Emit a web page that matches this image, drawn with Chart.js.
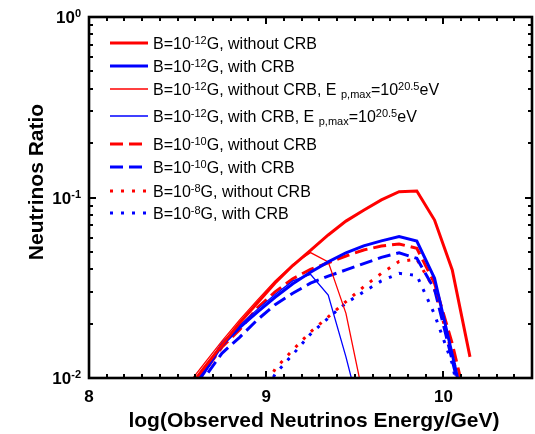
<!DOCTYPE html>
<html><head><meta charset="utf-8">
<script src="https://cdn.jsdelivr.net/npm/chart.js@4.4.1/dist/chart.umd.min.js"></script>
<style>html,body{margin:0;padding:0;background:#fff}canvas{display:block}</style>
</head><body>
<canvas id="c" width="535" height="434"></canvas>
<script>
// ---- data ----
const energies = [8.55,8.65,8.75,8.85,8.95,9.05,9.15,9.25,9.35,9.45,9.55,9.65,9.75,9.85,9.95,10.05,10.15];
const b12NoCrb      = [0.0085,0.0114,0.0152,0.0202,0.026,0.0336,0.042,0.051,0.062,0.074,0.085,0.097,0.1076,0.1086,0.075,0.0397,0.0131];
const b12Crb        = [0.0078,0.0107,0.0152,0.019,0.0232,0.028,0.0333,0.0385,0.044,0.0494,0.054,0.0575,0.0607,0.0574,0.0357,0.0135,0.005];
const b12NoCrbEmax  = [0.009,0.012,0.016,0.021,0.027,0.0345,0.0425,0.0495,0.044,0.0228,0.0077,null,null,null,null,null,null];
const b12CrbEmax    = [0.0081,0.0111,0.0157,0.0196,0.024,0.029,0.0345,0.0375,0.0288,0.0131,0.0054,null,null,null,null,null,null];
const b10NoCrb      = [0.0078,0.0108,0.0148,0.0185,0.0245,0.030,0.0355,0.040,0.0435,0.0474,0.0512,0.0538,0.0553,0.0523,0.0335,0.0155,0.006];
const b10Crb        = [0.0072,0.010,0.0137,0.0168,0.021,0.0255,0.0295,0.0335,0.0367,0.0397,0.043,0.0466,0.0494,0.046,0.031,0.0125,0.005];
const b8NoCrb       = [null,null,null,null,0.0075,0.0112,0.0143,0.018,0.0218,0.0265,0.032,0.038,0.0442,0.0455,0.031,0.0135,0.005];
const b8Crb         = [null,null,null,null,0.007,0.0105,0.0135,0.0175,0.0215,0.026,0.030,0.0345,0.038,0.037,0.0225,0.012,0.004];

const legendLabels = [
  'B=10^{-12}G, without CRB',
  'B=10^{-12}G, with CRB',
  'B=10^{-12}G, without CRB, E _{p,max}=10^{20.5}eV',
  'B=10^{-12}G, with CRB, E _{p,max}=10^{20.5}eV',
  'B=10^{-10}G, without CRB',
  'B=10^{-10}G, with CRB',
  'B=10^{-8}G, without CRB',
  'B=10^{-8}G, with CRB'
];
const xTickValues = [8, 9, 10];
const xTickLabels = ['8', '9', '10'];
const yTickValues = [1, 0.1, 0.01];
const yTickLabels = ['10^{0}', '10^{-1}', '10^{-2}'];
const xTitle = 'log(Observed Neutrinos Energy/GeV)';
const yTitle = 'Neutrinos Ratio';

// ---- styles ----
const RED = '#ff0000', BLUE = '#0000ff';
const FONT = '"Liberation Sans", Arial, Helvetica, sans-serif';
const pts = arr => energies.map((e, i) => ({x: e, y: arr[i]}));
const mk = (label, arr, color, width, dash) => ({
  label, data: pts(arr), borderColor: color, backgroundColor: color,
  borderWidth: width, borderDash: dash, pointRadius: 0, tension: 0,
  spanGaps: false, fill: false, borderCapStyle: 'butt', borderJoinStyle: 'miter'
});
const DASH = [13, 6], DOT = [3, 8];
const series = [b12NoCrb, b12Crb, b12NoCrbEmax, b12CrbEmax, b10NoCrb, b10Crb, b8NoCrb, b8Crb];
const colors = [RED, BLUE, RED, BLUE, RED, BLUE, RED, BLUE];
const widths = [3, 3, 1.3, 1.3, 3, 3, 3, 3];
const dashes = [[], [], [], [], DASH, DASH, DOT, DOT];
const datasets = series.map((s, i) => mk(legendLabels[i], s, colors[i], widths[i], dashes[i]));

// rich text: ^{sup} and _{sub}
function parseRich(str) {
  const parts = str.split(/(\^\{[^}]*\}|_\{[^}]*\})/).filter(s => s.length);
  return parts.map(p => {
    if (p.startsWith('^{')) return {t: p.slice(2, -1), k: 'sup'};
    if (p.startsWith('_{')) return {t: p.slice(2, -1), k: 'sub'};
    return {t: p, k: 'n'};
  });
}
function drawRich(ctx, str, x, y, size, weight, align) {
  const segs = parseRich(str);
  const small = Math.round(size * 0.66);
  const fontOf = k => `${weight} ${k === 'n' ? size : small}px ${FONT}`;
  let w = 0;
  segs.forEach(s => { ctx.font = fontOf(s.k); s.w = ctx.measureText(s.t).width; w += s.w; });
  let cx = align === 'right' ? x - w : align === 'center' ? x - w / 2 : x;
  ctx.textAlign = 'left';
  ctx.textBaseline = 'alphabetic';
  segs.forEach(s => {
    ctx.font = fontOf(s.k);
    const dy = s.k === 'sup' ? -size * 0.33 : s.k === 'sub' ? size * 0.2 : 0;
    ctx.fillText(s.t, cx, y + dy);
    cx += s.w;
  });
}

const framePlugin = {
  id: 'frame',
  afterDraw(chart) {
    const ctx = chart.ctx, a = chart.chartArea;
    const xs = chart.scales.x, ys = chart.scales.y;
    ctx.save();
    ctx.fillStyle = '#000';
    ctx.strokeStyle = '#000';
    // ticks (inward, on all four sides)
    ctx.lineWidth = 2;
    ctx.beginPath();
    for (let i = 0; i <= 25; i++) {
      const v = 8 + i * 0.1;
      const px = Math.round(xs.getPixelForValue(v)) + 0.0;
      const len = (i % 10 === 0) ? 7 : 4;
      ctx.moveTo(px, a.bottom); ctx.lineTo(px, a.bottom - len);
      ctx.moveTo(px, a.top); ctx.lineTo(px, a.top + len);
    }
    for (let k = -2; k <= -1; k++) {
      for (let m = 1; m <= 9; m++) {
        const v = m * Math.pow(10, k);
        const py = Math.round(ys.getPixelForValue(v));
        const len = (m === 1) ? 7 : 4;
        ctx.moveTo(a.left, py); ctx.lineTo(a.left + len, py);
        ctx.moveTo(a.right, py); ctx.lineTo(a.right - len, py);
      }
    }
    ctx.stroke();
    // frame
    ctx.lineWidth = 2.6;
    ctx.strokeRect(a.left, a.top, a.right - a.left, a.bottom - a.top);
    // x tick labels
    xTickValues.forEach((v, i) => {
      drawRich(ctx, xTickLabels[i], xs.getPixelForValue(v), a.bottom + 24, 17, 'bold', 'center');
    });
    // y tick labels
    yTickValues.forEach((v, i) => {
      drawRich(ctx, yTickLabels[i], a.left - 8, ys.getPixelForValue(v) + 6, 17, 'bold', 'right');
    });
    // axis titles
    ctx.font = `bold 21px ${FONT}`;
    ctx.textAlign = 'center';
    ctx.textBaseline = 'alphabetic';
    ctx.fillText(xTitle, 314, 427);
    ctx.save();
    ctx.translate(43, 182);
    ctx.rotate(-Math.PI / 2);
    ctx.fillText(yTitle, 0, 0);
    ctx.restore();
    // legend
    const rowY = [43, 66, 89, 116, 144, 167, 191, 213];
    chart.data.datasets.forEach((ds, i) => {
      const y = rowY[i];
      ctx.beginPath();
      ctx.strokeStyle = ds.borderColor;
      ctx.lineWidth = ds.borderWidth;
      ctx.setLineDash(ds.borderDash || []);
      ctx.lineCap = 'butt';
      ctx.moveTo(110, y); ctx.lineTo(148, y);
      ctx.stroke();
      ctx.setLineDash([]);
      ctx.fillStyle = '#000';
      drawRich(ctx, ds.label, 153, y + 6, 16, 'normal', 'left');
    });
    ctx.restore();
  }
};

new Chart(document.getElementById('c'), {
  type: 'line',
  data: { datasets },
  options: {
    responsive: false,
    animation: false,
    layout: { padding: { left: 89, top: 17, right: 3, bottom: 56 } },
    plugins: { legend: { display: false }, tooltip: { enabled: false } },
    scales: {
      x: { type: 'linear', min: 8, max: 10.5, display: false },
      y: { type: 'logarithmic', min: 0.01, max: 1, display: false }
    }
  },
  plugins: [framePlugin]
});
</script>
</body></html>
